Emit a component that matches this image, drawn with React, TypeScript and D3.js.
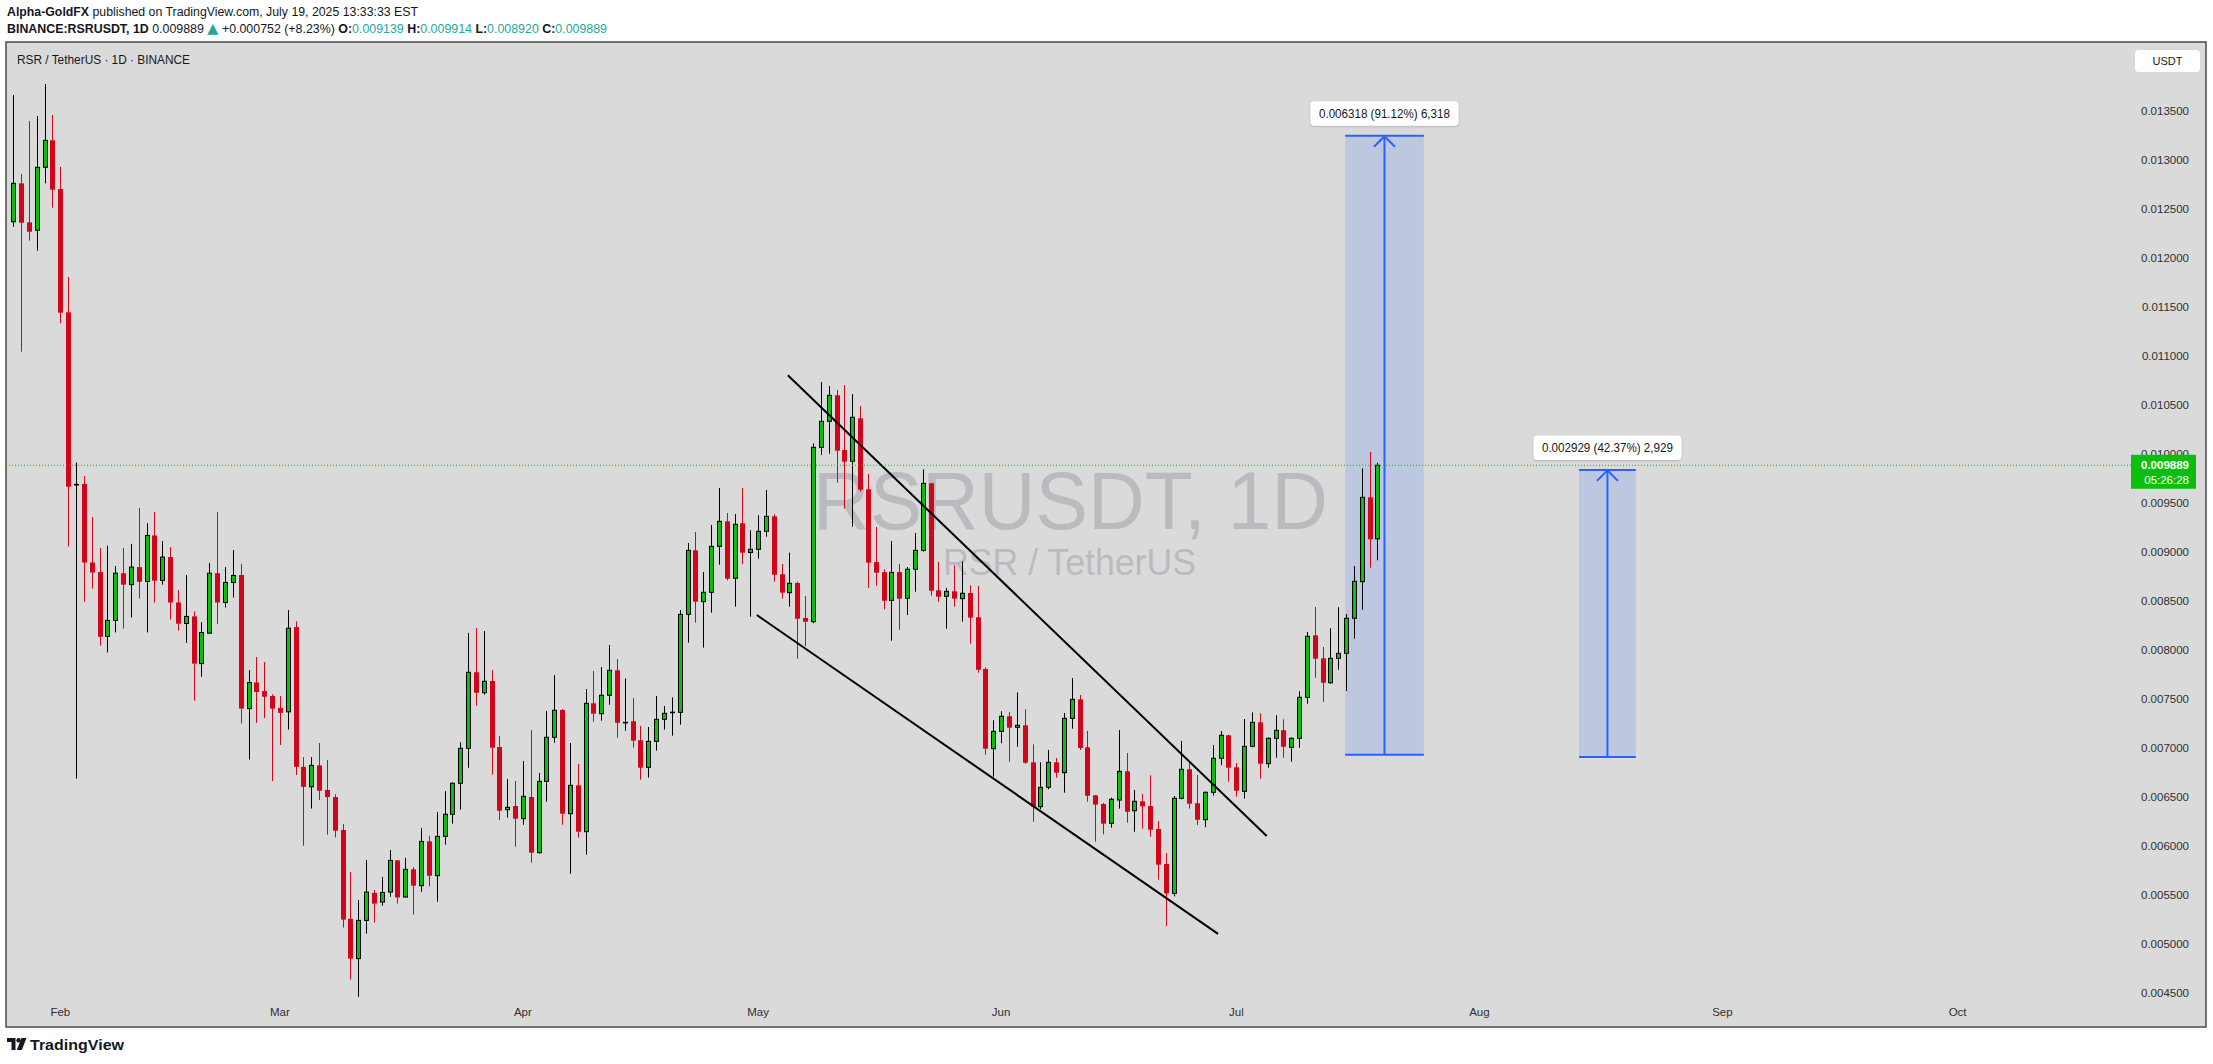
import React from "react";
import * as d3 from "d3";

const W = 2213;
const H = 1064;
const DAY = 86400000;

// ---------- data ----------
const firstCandle = "2025-01-26";

const opens = [
  0.012374, 0.012766, 0.012368, 0.012287, 0.01293, 0.013205, 0.012708, 0.01145, 0.00969, 0.009699,
  0.008897, 0.008799, 0.008143, 0.008306, 0.008788, 0.008671, 0.00885, 0.008704, 0.009173, 0.008714,
  0.008952, 0.008489, 0.008274, 0.008347, 0.007865, 0.008176, 0.008788, 0.008489, 0.008693, 0.008769,
  0.007406, 0.007673, 0.007585, 0.007534, 0.007413, 0.007373, 0.008238, 0.006812, 0.006608, 0.006827,
  0.006576, 0.006503, 0.006167, 0.00526, 0.004855, 0.005245, 0.005526, 0.005432, 0.005534, 0.005857,
  0.005483, 0.005766, 0.005599, 0.006051, 0.005701, 0.006102, 0.006328, 0.006644, 0.007001, 0.007777,
  0.007568, 0.007688, 0.007014, 0.006375, 0.006412, 0.006283, 0.006504, 0.005936, 0.006664, 0.007113,
  0.007392, 0.006334, 0.006623, 0.00615, 0.00746, 0.007354, 0.007542, 0.007797, 0.007262, 0.007277,
  0.007083, 0.006807, 0.007072, 0.007297, 0.007366, 0.007368, 0.008368, 0.009021, 0.008497, 0.008593,
  0.009062, 0.009317, 0.008736, 0.009297, 0.008999, 0.009031, 0.009215, 0.009368, 0.008777, 0.008589,
  0.008688, 0.008331, 0.008293, 0.010072, 0.010338, 0.010603, 0.010045, 0.00993, 0.010368, 0.009644,
  0.008902, 0.008799, 0.008511, 0.008799, 0.008532, 0.008828, 0.009021, 0.009705, 0.008613, 0.008552,
  0.008603, 0.008528, 0.008586, 0.008338, 0.00781, 0.006997, 0.007174, 0.007328, 0.007215, 0.007236,
  0.006858, 0.006405, 0.006603, 0.006858, 0.006752, 0.007307, 0.007501, 0.007011, 0.006521, 0.006433,
  0.006236, 0.006473, 0.006766, 0.006364, 0.00646, 0.006412, 0.006178, 0.00582, 0.005521, 0.006491,
  0.006787, 0.00644, 0.006272, 0.006552, 0.006899, 0.007134, 0.006807, 0.006562, 0.007021, 0.007266,
  0.006844, 0.007103, 0.007185, 0.007011, 0.007103, 0.007521, 0.008154, 0.007919, 0.00767, 0.007919,
  0.00797, 0.008328, 0.008701, 0.009562, 0.009139,
];

const highs = [
  0.013667, 0.012861, 0.013402, 0.013453, 0.01378, 0.013463, 0.012933, 0.01181, 0.009917, 0.009779,
  0.00936, 0.009046, 0.009068, 0.00886, 0.009046, 0.009087, 0.009454, 0.009298, 0.009411, 0.009115,
  0.009054, 0.008616, 0.008769, 0.008398, 0.008289, 0.008893, 0.009411, 0.00885, 0.009024, 0.008883,
  0.0078, 0.007932, 0.007881, 0.007552, 0.007534, 0.008412, 0.008296, 0.006911, 0.006911, 0.007056,
  0.006882, 0.006532, 0.00623, 0.005738, 0.005453, 0.005861, 0.005555, 0.005687, 0.005963, 0.00586,
  0.005883, 0.005789, 0.006189, 0.006109, 0.00635, 0.006564, 0.006654, 0.007062, 0.008178, 0.008229,
  0.008198, 0.0078, 0.007127, 0.006688, 0.006667, 0.006871, 0.007188, 0.006749, 0.007382, 0.007749,
  0.007402, 0.007055, 0.006841, 0.007606, 0.00779, 0.007831, 0.008055, 0.007912, 0.007715, 0.007514,
  0.007229, 0.007218, 0.007535, 0.007433, 0.007521, 0.008412, 0.009096, 0.009208, 0.0088, 0.00928,
  0.009657, 0.009402, 0.009392, 0.009657, 0.009226, 0.009379, 0.009637, 0.009389, 0.008882, 0.008997,
  0.008701, 0.008555, 0.010113, 0.010739, 0.010698, 0.010657, 0.010708, 0.010616, 0.010494, 0.0098,
  0.009259, 0.008828, 0.009116, 0.008882, 0.008851, 0.009198, 0.009848, 0.009712, 0.008902, 0.008637,
  0.008868, 0.008909, 0.008664, 0.008657, 0.007827, 0.007287, 0.007379, 0.007371, 0.007572, 0.007399,
  0.007042, 0.006858, 0.006984, 0.006902, 0.007361, 0.007718, 0.007545, 0.007178, 0.006525, 0.006443,
  0.006497, 0.007188, 0.006953, 0.006576, 0.006535, 0.006726, 0.006259, 0.005933, 0.006514, 0.007076,
  0.006854, 0.006729, 0.00656, 0.007035, 0.007178, 0.00714, 0.006851, 0.0073, 0.007368, 0.007358,
  0.007113, 0.007338, 0.007297, 0.007113, 0.007583, 0.008188, 0.008443, 0.008035, 0.008226, 0.00844,
  0.008371, 0.008861, 0.009858, 0.010025, 0.009914,
];

const lows = [
  0.012323, 0.011048, 0.012181, 0.012079, 0.012766, 0.012517, 0.011338, 0.009061, 0.006692, 0.008496,
  0.008631, 0.008048, 0.007979, 0.008183, 0.008222, 0.008336, 0.008529, 0.008183, 0.008489, 0.008671,
  0.008314, 0.008201, 0.008077, 0.007487, 0.007731, 0.00817, 0.00827, 0.008438, 0.00854, 0.007253,
  0.006886, 0.00726, 0.007311, 0.006666, 0.007035, 0.007192, 0.006729, 0.006007, 0.006386, 0.006473,
  0.00612, 0.006091, 0.005172, 0.004641, 0.004465, 0.00511, 0.005223, 0.005395, 0.005486, 0.005416,
  0.00548, 0.005304, 0.005537, 0.005592, 0.005435, 0.006018, 0.006232, 0.006375, 0.006803, 0.007436,
  0.007548, 0.006732, 0.006269, 0.006293, 0.005997, 0.006221, 0.005834, 0.005926, 0.006456, 0.007058,
  0.006221, 0.005721, 0.006089, 0.005915, 0.007272, 0.007283, 0.007446, 0.007109, 0.007181, 0.007007,
  0.006681, 0.006701, 0.006977, 0.007191, 0.00713, 0.007242, 0.008079, 0.008283, 0.008028, 0.008385,
  0.008875, 0.008715, 0.008446, 0.008879, 0.008344, 0.008936, 0.00916, 0.008701, 0.008528, 0.008446,
  0.007915, 0.008045, 0.008277, 0.009994, 0.010007, 0.009711, 0.009446, 0.009262, 0.009619, 0.008637,
  0.00866, 0.008419, 0.008099, 0.008211, 0.008361, 0.008599, 0.009007, 0.008558, 0.008497, 0.008221,
  0.008446, 0.008293, 0.008068, 0.007772, 0.006936, 0.006711, 0.007052, 0.006864, 0.007017, 0.006841,
  0.006252, 0.006379, 0.006583, 0.006701, 0.006548, 0.007201, 0.006984, 0.006456, 0.006048, 0.006123,
  0.006191, 0.006385, 0.006242, 0.00615, 0.006181, 0.006099, 0.00566, 0.005188, 0.00549, 0.00648,
  0.006385, 0.006218, 0.006195, 0.006517, 0.006828, 0.00666, 0.006507, 0.006487, 0.00701, 0.006691,
  0.006803, 0.006905, 0.006905, 0.006864, 0.007007, 0.007456, 0.007721, 0.007473, 0.00766, 0.007803,
  0.007586, 0.008119, 0.008415, 0.008844, 0.00892,
];

const closes = [
  0.012766, 0.012364, 0.012272, 0.01293, 0.013205, 0.012701, 0.011446, 0.00967, 0.009694, 0.008897,
  0.008795, 0.008139, 0.008306, 0.008788, 0.008671, 0.00885, 0.0087, 0.009173, 0.008711, 0.008952,
  0.008489, 0.008273, 0.008347, 0.007865, 0.008183, 0.008788, 0.008489, 0.008693, 0.008765, 0.007406,
  0.007672, 0.007575, 0.007527, 0.007406, 0.007362, 0.008227, 0.006812, 0.006608, 0.006827, 0.006568,
  0.006503, 0.00616, 0.005253, 0.004855, 0.005245, 0.005534, 0.005416, 0.00553, 0.005857, 0.005479,
  0.005766, 0.005599, 0.006051, 0.005701, 0.006102, 0.006328, 0.006644, 0.007001, 0.007777, 0.007568,
  0.007685, 0.007007, 0.006364, 0.006399, 0.006283, 0.006511, 0.005936, 0.006664, 0.007113, 0.007389,
  0.006334, 0.006623, 0.00615, 0.00746, 0.007354, 0.007542, 0.007797, 0.007262, 0.007266, 0.007079,
  0.006803, 0.007072, 0.007297, 0.007358, 0.00737, 0.008368, 0.009021, 0.008497, 0.008593, 0.009062,
  0.009317, 0.008732, 0.009287, 0.008997, 0.009032, 0.009215, 0.009368, 0.008772, 0.008589, 0.008685,
  0.008323, 0.008293, 0.010072, 0.010338, 0.010603, 0.010038, 0.009926, 0.010379, 0.00964, 0.008895,
  0.008793, 0.008507, 0.008796, 0.008528, 0.008828, 0.009021, 0.009705, 0.008609, 0.008548, 0.008603,
  0.008528, 0.008583, 0.008334, 0.007803, 0.006997, 0.007174, 0.007328, 0.007211, 0.007236, 0.006854,
  0.006405, 0.006603, 0.006858, 0.006752, 0.007307, 0.007501, 0.007004, 0.006517, 0.006426, 0.006232,
  0.006481, 0.006766, 0.006354, 0.00646, 0.006409, 0.00617, 0.005813, 0.005521, 0.006491, 0.006787,
  0.006436, 0.006272, 0.006552, 0.006899, 0.007134, 0.006803, 0.006568, 0.007021, 0.007266, 0.006844,
  0.007103, 0.007185, 0.007017, 0.007103, 0.007521, 0.008144, 0.007915, 0.00767, 0.007919, 0.00797,
  0.008328, 0.008705, 0.009562, 0.009134, 0.009889,
];

const priceTicks = [
  0.0045, 0.005, 0.0055, 0.006, 0.0065, 0.007, 0.0075, 0.008, 0.0085, 0.009,
  0.0095, 0.01, 0.0105, 0.011, 0.0115, 0.012, 0.0125, 0.013, 0.0135,
];

const monthTicks = [
  "2025-02-01", "2025-03-01", "2025-04-01", "2025-05-01", "2025-06-01",
  "2025-07-01", "2025-08-01", "2025-09-01", "2025-10-01",
];
const monthLabels = ["Feb", "Mar", "Apr", "May", "Jun", "Jul", "Aug", "Sep", "Oct"];

const lastPrice = 0.009889;
const countdown = "05:26:28";

const upperLineDates = ["2025-05-04T19:00:00Z", "2025-07-04T21:00:00Z"];
const upperLinePrices = [0.010807, 0.006106];
const lowerLineDates = ["2025-04-30T20:00:00Z", "2025-06-28T16:00:00Z"];
const lowerLinePrices = [0.008361, 0.005108];

const rangeStarts = ["2025-07-14T21:00:00Z", "2025-08-13T17:00:00Z"];
const rangeEnds = ["2025-07-24T22:00:00Z", "2025-08-20T23:00:00Z"];
const rangeFrom = [0.006934, 0.006913];
const rangeTo = [0.013252, 0.009842];
const rangeLabels = ["0.006318 (91.12%) 6,318", "0.002929 (42.37%) 2,929"];

// ---------- styling ----------
const BG = "#dadada";
const UP = "#0dbf0d";
const DOWN = "#d1061b";
const BLUE = "#2962ff";
const TEAL = "#26a69a";
const FONT = "'Liberation Sans', Arial, sans-serif";

const FRAME = { left: 6, top: 42, right: 2206, bottom: 1027 };

export default function App() {
  const t0 = new Date(firstCandle + "T00:00:00Z");
  const x = d3
    .scaleUtc()
    .domain([t0, new Date(+t0 + 248 * DAY)])
    .range([13.3, 13.3 + 248 * 7.84]);
  const y = d3.scaleLinear().domain([0.0045, 0.0135]).range([993.4, 111.4]);
  const fmt = d3.format(".6f");

  const candleDate = (i: number) => new Date(+t0 + i * DAY);

  const lineGen = d3
    .line<[Date, number]>()
    .x((d) => x(d[0]))
    .y((d) => y(d[1]));

  const upper: [Date, number][] = upperLineDates.map((d, i) => [new Date(d), upperLinePrices[i]]);
  const lower: [Date, number][] = lowerLineDates.map((d, i) => [new Date(d), lowerLinePrices[i]]);

  const yLast = y(lastPrice);

  return (
    <svg
      width={W}
      height={H}
      viewBox={`0 0 ${W} ${H}`}
      style={{ position: "absolute", left: 0, top: 0, display: "block", background: "#fff" }}
      fontFamily={FONT}
    >
      <defs>
        <clipPath id="plotClip">
          <rect x={FRAME.left} y={FRAME.top} width={FRAME.right - FRAME.left} height={1000 - FRAME.top} />
        </clipPath>
        <filter id="shadow" x="-10%" y="-30%" width="120%" height="160%">
          <feDropShadow dx="0" dy="1" stdDeviation="1.2" floodColor="#000" floodOpacity="0.18" />
        </filter>
      </defs>

      <rect x={0} y={0} width={W} height={H} fill="#ffffff" />

      {/* header */}
      <text x={7} y={15.5} fontSize={12} fill="#131722" textLength={411} lengthAdjust="spacingAndGlyphs">
        <tspan fontWeight="bold">Alpha-GoldFX</tspan>
        <tspan> published on TradingView.com, July 19, 2025 13:33:33 EST</tspan>
      </text>
      <text x={7} y={33} fontSize={12} fill="#131722" textLength={600} lengthAdjust="spacingAndGlyphs">
        <tspan fontWeight="bold">BINANCE:RSRUSDT, 1D</tspan>
        <tspan> 0.009889 </tspan>
        <tspan fill={TEAL} fontSize={14} fontFamily="'DejaVu Sans', sans-serif">▲</tspan>
        <tspan> +0.000752 (+8.23%) </tspan>
        <tspan fontWeight="bold">O:</tspan>
        <tspan fill={TEAL}>0.009139</tspan>
        <tspan fontWeight="bold"> H:</tspan>
        <tspan fill={TEAL}>0.009914</tspan>
        <tspan fontWeight="bold"> L:</tspan>
        <tspan fill={TEAL}>0.008920</tspan>
        <tspan fontWeight="bold"> C:</tspan>
        <tspan fill={TEAL}>0.009889</tspan>
      </text>

      {/* chart frame */}
      <rect
        x={FRAME.left}
        y={FRAME.top}
        width={FRAME.right - FRAME.left}
        height={FRAME.bottom - FRAME.top}
        fill={BG}
        stroke="#4a4a4a"
        strokeWidth={1.5}
      />

      {/* pane title */}
      <text x={17} y={64} fontSize={13} fill="#131722" textLength={173} lengthAdjust="spacingAndGlyphs">
        RSR / TetherUS · 1D · BINANCE
      </text>

      {/* watermark */}
      <text x={813} y={528.5} fontSize={82} fill="#babbbf" textLength={515} lengthAdjust="spacingAndGlyphs">
        RSRUSDT, 1D
      </text>
      <text x={943} y={575} fontSize={37} fill="#babbbf" textLength={253} lengthAdjust="spacingAndGlyphs">
        RSR / TetherUS
      </text>

      {/* y axis labels */}
      {priceTicks.map((p) => (
        <text key={p} x={2189} y={y(p) + 4} fontSize={11.5} fill="#2f2f2f" textAnchor="end">
          {fmt(p)}
        </text>
      ))}

      {/* USDT box */}
      <rect x={2135} y={50} width={65} height={22} rx={4} fill="#ffffff" />
      <text x={2167.5} y={65} fontSize={11} fill="#131722" textAnchor="middle">
        USDT
      </text>

      {/* x axis labels */}
      {monthTicks.map((m, i) => (
        <text key={m} x={x(new Date(m + "T00:00:00Z"))} y={1016} fontSize={11.5} fill="#2f2f2f" textAnchor="middle">
          {monthLabels[i]}
        </text>
      ))}

      <g clipPath="url(#plotClip)">
        {/* price range boxes */}
        {rangeStarts.map((s, i) => {
          const x0 = x(new Date(s));
          const x1 = x(new Date(rangeEnds[i]));
          const yTop = y(rangeTo[i]);
          const yBot = y(rangeFrom[i]);
          const cx = (x0 + x1) / 2;
          return (
            <g key={s}>
              <rect x={x0} y={yTop} width={x1 - x0} height={yBot - yTop} fill={BLUE} fillOpacity={0.16} />
              <line x1={x0} x2={x1} y1={yTop} y2={yTop} stroke={BLUE} strokeWidth={2} />
              <line x1={x0} x2={x1} y1={yBot} y2={yBot} stroke={BLUE} strokeWidth={2} />
              <line x1={cx} x2={cx} y1={yBot} y2={yTop} stroke={BLUE} strokeWidth={2} />
              <polyline
                points={`${cx - 10.5},${yTop + 11} ${cx},${yTop + 0.5} ${cx + 10.5},${yTop + 11}`}
                fill="none"
                stroke={BLUE}
                strokeWidth={2}
              />
            </g>
          );
        })}

        {/* candles */}
        {opens.map((o, i) => {
          const c = closes[i];
          const up = c >= o;
          const cx = Math.round(x(candleDate(i)));
          const yo = y(o);
          const yc = y(c);
          const top = Math.min(yo, yc);
          const bot = Math.max(yo, yc);
          const hgt = Math.max(bot - top, 0.6);
          return (
            <g key={i}>
              <line
                x1={cx + 0.5}
                x2={cx + 0.5}
                y1={y(highs[i])}
                y2={y(lows[i])}
                stroke={up ? "#000" : DOWN}
                strokeWidth={1}
              />
              {up ? (
                <rect x={cx - 1.5} y={top} width={4} height={hgt} fill={UP} stroke="#000" strokeWidth={1} />
              ) : (
                <rect x={cx - 2} y={top} width={5} height={hgt} fill={DOWN} />
              )}
            </g>
          );
        })}

        {/* falling wedge lines */}
        <path d={lineGen(upper) || ""} stroke="#000" strokeWidth={2} fill="none" />
        <path d={lineGen(lower) || ""} stroke="#000" strokeWidth={2} fill="none" />

        {/* last price dotted line */}
        <line
          x1={FRAME.left}
          x2={2131}
          y1={yLast}
          y2={yLast}
          stroke={UP}
          strokeWidth={1}
          strokeDasharray="1 2"
        />
      </g>

      {/* range labels */}
      {rangeStarts.map((s, i) => {
        const cx = (x(new Date(s)) + x(new Date(rangeEnds[i]))) / 2;
        const yTop = y(rangeTo[i]);
        const bh = 24.5;
        const bw = 148;
        const by = yTop - 10 - bh;
        return (
          <g key={"lbl" + s}>
            <rect x={cx - bw / 2} y={by} width={bw} height={bh} rx={4} fill="#fff" filter="url(#shadow)" />
            <text
              x={cx}
              y={by + bh / 2 + 4.2}
              fontSize={12}
              fill="#131722"
              textAnchor="middle"
              textLength={131}
              lengthAdjust="spacingAndGlyphs"
            >
              {rangeLabels[i]}
            </text>
          </g>
        );
      })}

      {/* last price label */}
      <rect x={2131} y={yLast - 10.5} width={65} height={34} fill={UP} />
      <text x={2189} y={yLast + 4} fontSize={11.5} fill="#fff" textAnchor="end" fontWeight="bold">
        {fmt(lastPrice)}
      </text>
      <text x={2189} y={yLast + 19} fontSize={11.5} fill="#fff" textAnchor="end">
        {countdown}
      </text>

      {/* TradingView logo */}
      <g fill="#131722">
        <path d="M7 1038 H15.5 V1050 H11.5 V1042 H7 Z" />
        <circle cx={18.6} cy={1040.2} r={2.2} />
        <path d="M21.5 1038 H26.5 L21.8 1050 H16.8 Z" />
      </g>
      <text x={30} y={1050} fontSize={15} fontWeight="bold" fill="#131722" textLength={94} lengthAdjust="spacingAndGlyphs">
        TradingView
      </text>
    </svg>
  );
}
